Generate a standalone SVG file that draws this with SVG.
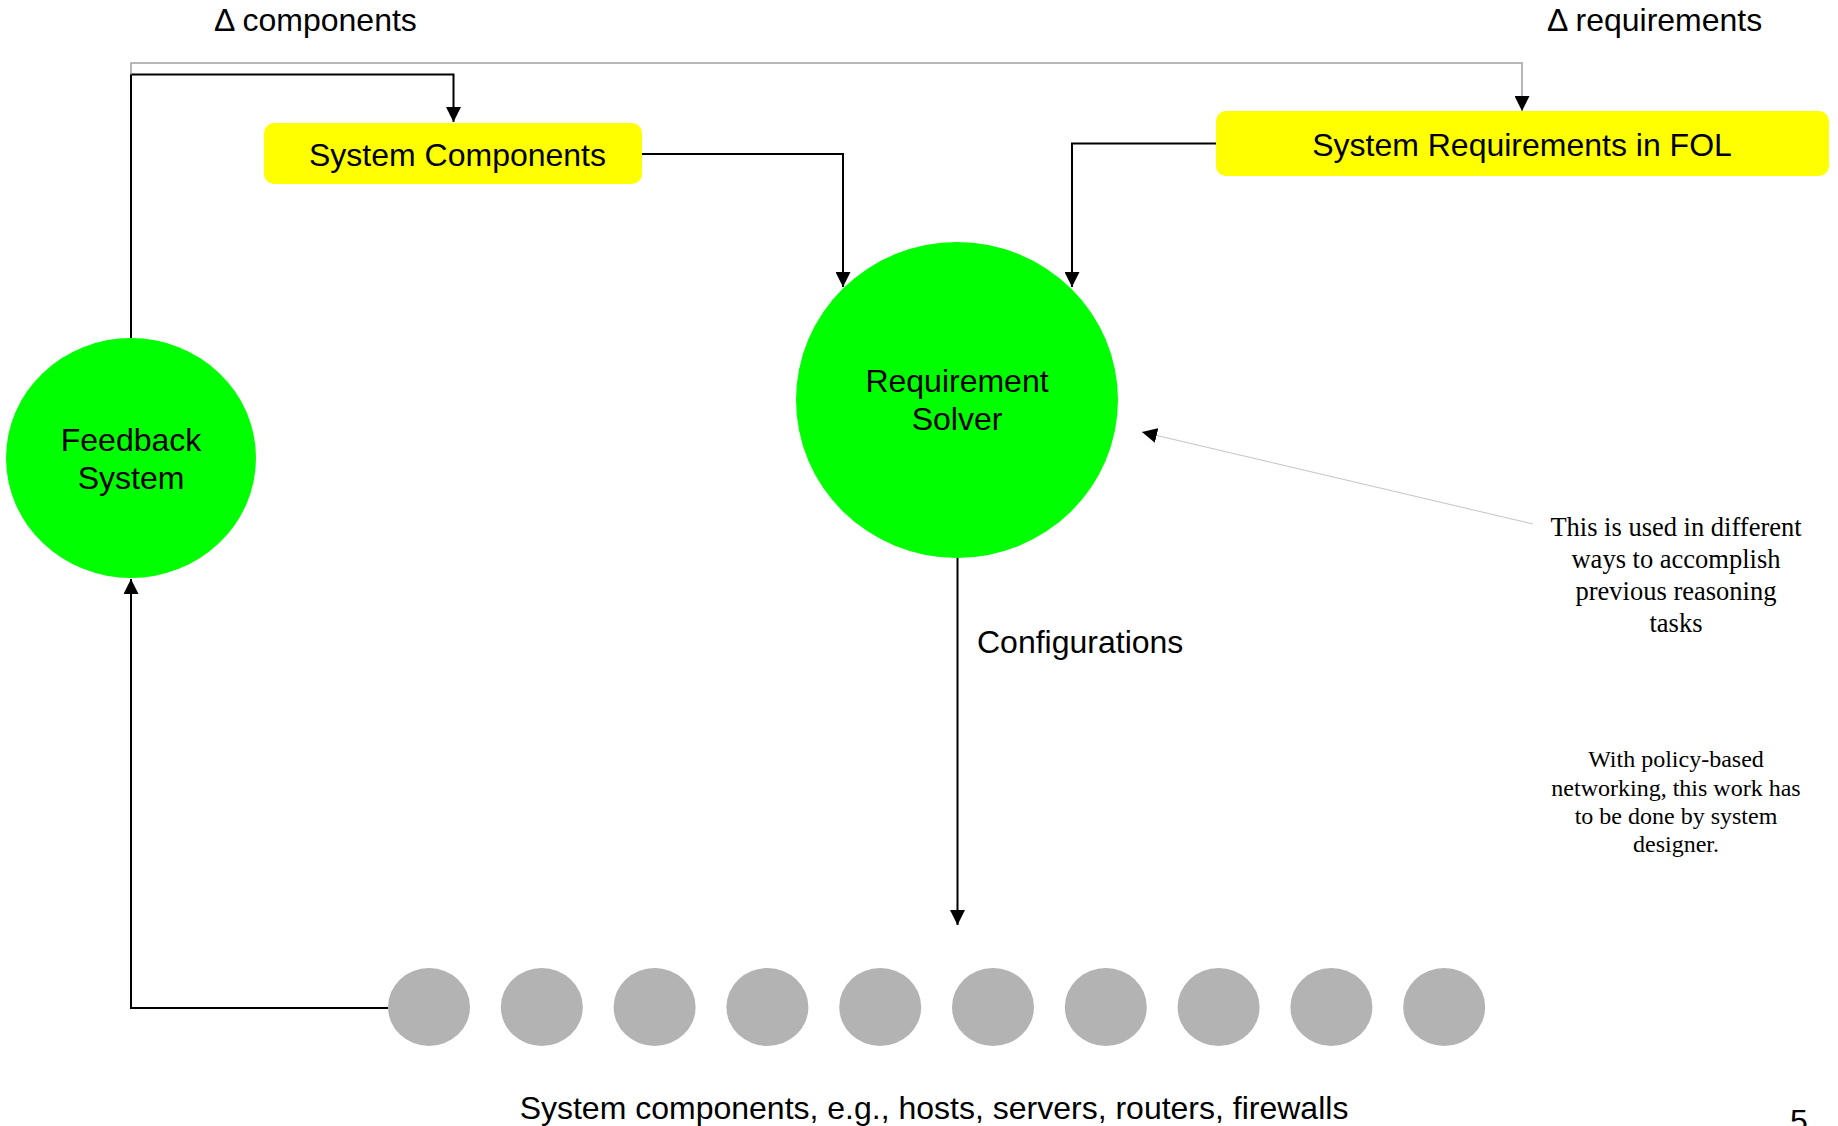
<svg xmlns="http://www.w3.org/2000/svg" width="1838" height="1126" viewBox="0 0 1838 1126">
  <style>
    .lbl { font-family: "Liberation Sans", Arial, sans-serif; font-size: 32px; fill: #000; }
    .note { font-family: "Liberation Serif", "Times New Roman", serif; fill: #000; text-anchor: middle; }
    .box { fill: #ffff00; }
    .disc { fill: #00ff00; }
    .comp { fill: #b3b3b3; }
    .wire { fill: none; stroke: #000; stroke-width: 2; }
    .wire-gray { fill: none; stroke: #a0a0a0; stroke-width: 1.5; }
    .wire-thin { fill: none; stroke: #c4c4c4; stroke-width: 1; }
  </style>
  <defs>
    <marker id="arrow" viewBox="0 0 15 15" refX="15" refY="7.5" markerWidth="15" markerHeight="15" markerUnits="userSpaceOnUse" orient="auto">
      <path d="M0,0 L15,7.5 L0,15 z" fill="#000"/>
    </marker>
  </defs>
  <rect width="1838" height="1126" fill="#fff"/>

  <!-- connectors -->
  <g id="connectors">
    <!-- feedback to components (delta components) -->
    <path class="wire" d="M131,338 V74.5 H453.5 V122" marker-end="url(#arrow)"/>
    <!-- feedback to requirements (delta requirements) -->
    <path class="wire-gray" d="M131,74.5 V63 H1522 V111" marker-end="url(#arrow)"/>
    <!-- components to solver -->
    <path class="wire" d="M642,154 H843 V287" marker-end="url(#arrow)"/>
    <!-- requirements to solver -->
    <path class="wire" d="M1216,143.5 H1072 V287" marker-end="url(#arrow)"/>
    <!-- solver configurations down -->
    <path class="wire" d="M957.5,557 V925" marker-end="url(#arrow)"/>
    <!-- components back to feedback -->
    <path class="wire" d="M388,1008 H131 V579" marker-end="url(#arrow)"/>
    <!-- annotation pointer -->
    <path class="wire-thin" d="M1533,524 L1142,432" marker-end="url(#arrow)"/>
  </g>

  <!-- edge labels -->
  <text class="lbl" x="214" y="31">Δ components</text>
  <text class="lbl" x="1547" y="31">Δ requirements</text>
  <text class="lbl" x="977" y="653">Configurations</text>

  <g id="system-components">
    <rect class="box" x="264" y="123" width="378" height="61" rx="10"/>
    <text class="lbl" x="457.5" y="166" text-anchor="middle">System Components</text>
  </g>

  <g id="system-requirements">
    <rect class="box" x="1216" y="111" width="613" height="65" rx="10"/>
    <text class="lbl" x="1522" y="156" text-anchor="middle">System Requirements in FOL</text>
  </g>

  <g id="requirement-solver">
    <ellipse class="disc" cx="957" cy="400" rx="161" ry="158"/>
    <text class="lbl" x="957" y="392" text-anchor="middle">Requirement</text>
    <text class="lbl" x="957" y="430" text-anchor="middle">Solver</text>
  </g>

  <g id="feedback-system">
    <ellipse class="disc" cx="131" cy="458" rx="125" ry="120"/>
    <text class="lbl" x="131" y="451" text-anchor="middle">Feedback</text>
    <text class="lbl" x="131" y="489" text-anchor="middle">System</text>
  </g>

  <g id="components-row">
    <ellipse class="comp" cx="429" cy="1007" rx="41" ry="39"/>
    <ellipse class="comp" cx="541.8" cy="1007" rx="41" ry="39"/>
    <ellipse class="comp" cx="654.6" cy="1007" rx="41" ry="39"/>
    <ellipse class="comp" cx="767.4" cy="1007" rx="41" ry="39"/>
    <ellipse class="comp" cx="880.2" cy="1007" rx="41" ry="39"/>
    <ellipse class="comp" cx="993" cy="1007" rx="41" ry="39"/>
    <ellipse class="comp" cx="1105.8" cy="1007" rx="41" ry="39"/>
    <ellipse class="comp" cx="1218.6" cy="1007" rx="41" ry="39"/>
    <ellipse class="comp" cx="1331.4" cy="1007" rx="41" ry="39"/>
    <ellipse class="comp" cx="1444.2" cy="1007" rx="41" ry="39"/>
  </g>
  <text class="lbl" x="934" y="1119" text-anchor="middle">System components, e.g., hosts, servers, routers, firewalls</text>

  <!-- side notes -->
  <g id="note-usage" class="note" font-size="26.5">
    <text x="1676" y="536">This is used in different</text>
    <text x="1676" y="568">ways to accomplish</text>
    <text x="1676" y="600">previous reasoning</text>
    <text x="1676" y="632">tasks</text>
  </g>
  <g id="note-policy" class="note" font-size="24">
    <text x="1676" y="767">With policy-based</text>
    <text x="1676" y="795.5">networking, this work has</text>
    <text x="1676" y="824">to be done by system</text>
    <text x="1676" y="852">designer.</text>
  </g>

  <!-- page number, runs past the bottom edge -->
  <text class="lbl" x="1799" y="1132" font-size="25" text-anchor="middle">5</text>
</svg>
